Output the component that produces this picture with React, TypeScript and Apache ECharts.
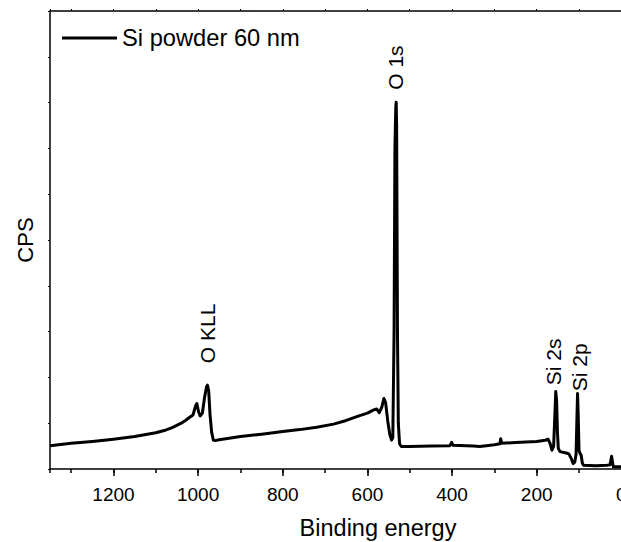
import React, { useEffect, useRef } from "react";
import * as echarts from "echarts";

// Binding energy (eV) and counts (relative CPS, 0-100 scale)
const energy = [
  1350, 1300, 1250, 1200, 1150, 1100, 1080, 1060, 1040, 1030, 1020, 1012, 1006, 1003, 999, 995, 990, 985, 980, 978, 975, 972, 968, 964, 960,
  950, 900, 850, 800, 760, 720, 680, 650, 620, 600, 585, 578, 572, 566, 561, 557, 552, 547, 543, 540, 537, 535, 533, 532, 531, 529, 527,
  524, 520, 500, 450, 405, 401, 398, 350, 334, 300, 287, 285, 283, 250, 200, 180, 173, 168, 164, 160, 157, 155, 153, 151, 149, 145,
  130, 124, 118, 114, 110, 107, 105, 103.5, 102, 100, 98, 95, 92, 89, 60, 35, 27, 25, 23, 21, 19, 10, 0, -30,
];
const cps = [
  5.1, 5.6, 6.0, 6.5, 7.1, 7.9, 8.4, 9.1, 10.0, 10.6, 11.3, 11.8, 13.8, 14.3, 12.5, 11.6, 12.2, 15.5, 18.0, 18.3, 17.0, 12.0, 8.0, 6.3, 6.2,
  6.4, 7.1, 7.6, 8.2, 8.6, 9.1, 9.8, 10.6, 11.6, 12.2, 12.9, 13.1, 12.3, 13.5, 15.4, 14.5, 10.5, 7.5, 6.3, 6.8, 30, 70, 79, 80.1, 75, 30, 10,
  5.5, 4.9, 4.9, 5.0, 5.1, 5.8, 5.2, 5.0, 4.9, 5.3, 5.5, 6.6, 5.6, 5.8, 6.0, 6.3, 6.5, 5.5, 4.1, 5.0, 12, 16.9, 15, 8, 4.5, 3.8,
  3.5, 3.3, 2.2, 1.2, 1.5, 3.2, 11, 16.5, 12, 4, 3.5, 3.0, 1.2, 0.8, 0.7, 0.8, 0.9, 1.8, 2.8, 1.5, 0.5, 0.5, 0.5, 0.5,
];

const seriesName = "Si powder 60 nm";

// Peak annotations: label, energy, cps level where the label starts
const peakLabels = ["O KLL", "O 1s", "Si 2s", "Si 2p"];
const peakEnergy = [978, 533, 161, 98];
const peakLevel = [23.1, 82.8, 18.3, 17.0];

const xTitle = "Binding energy";
const yTitle = "CPS";

const FONT = "'Liberation Sans', Arial, sans-serif";

export default function App() {
  const ref = useRef<HTMLDivElement>(null);
  useEffect(() => {
    if (!ref.current) return;
    const chart = echarts.init(ref.current, undefined, { renderer: "svg" });
    const lineData = energy.map((e, i) => [e, cps[i]]);
    const annData = peakLabels.map((l, i) => ({ name: l, value: [peakEnergy[i], peakLevel[i]] }));
    const axisLineStyle = { color: "#000", width: 1.5 };
    chart.setOption({
      animation: false,
      backgroundColor: "#fff",
      textStyle: { fontFamily: FONT, color: "#000" },
      grid: { left: 50, top: 11, bottom: 73, right: 24, containLabel: false, outerBoundsMode: "none" },
      legend: {
        data: [{ name: seriesName, icon: "rect" }],
        left: 62,
        top: 26,
        padding: 0,
        itemWidth: 55,
        itemHeight: 3,
        itemStyle: { color: "#000" },
        textStyle: { fontSize: 23.7, color: "#000", fontFamily: FONT },
      },
      xAxis: [
        {
          type: "value",
          inverse: true,
          min: -200,
          max: 1350,
          interval: 200,
          position: "bottom",
          axisLine: { show: true, onZero: false, lineStyle: axisLineStyle },
          axisTick: { show: true, length: 7, inside: false, lineStyle: { color: "#000", width: 1.5 } },
          axisLabel: {
            fontSize: 19,
            color: "#000",
            fontFamily: FONT,
            margin: 16,
            showMaxLabel: false,
            showMinLabel: false,
            formatter: (v: number) => String(v),
          },
          splitLine: { show: false },
          name: xTitle,
          nameLocation: "middle",
          nameGap: 47,
          nameTextStyle: { fontSize: 23.5, color: "#000", fontFamily: FONT },
        },
        {
          type: "value",
          inverse: true,
          min: -200,
          max: 1350,
          interval: 100,
          position: "bottom",
          axisLine: { show: false, onZero: false },
          axisTick: { show: true, length: 4, inside: false, lineStyle: { color: "#000", width: 1.5 } },
          axisLabel: { show: false },
          splitLine: { show: false },
        },
        {
          type: "value",
          inverse: true,
          min: -200,
          max: 1350,
          interval: 100,
          position: "top",
          axisLine: { show: true, onZero: false, lineStyle: axisLineStyle },
          axisTick: { show: true, length: 2, inside: false, lineStyle: { color: "#000", width: 1 } },
          axisLabel: { show: false },
          splitLine: { show: false },
        },
      ],
      yAxis: {
        type: "value",
        min: 0,
        max: 100,
        interval: 10,
        position: "left",
        axisLine: { show: true, onZero: false, lineStyle: axisLineStyle },
        axisTick: { show: true, length: 2, inside: false, lineStyle: { color: "#000", width: 1 } },
        axisLabel: { show: false },
        splitLine: { show: false },
        name: yTitle,
        nameLocation: "middle",
        nameGap: 14,
        nameTextStyle: { fontSize: 22, color: "#000", fontFamily: FONT },
      },
      series: [
        {
          name: seriesName,
          type: "line",
          xAxisIndex: 0,
          data: lineData,
          symbol: "none",
          showSymbol: false,
          lineStyle: { color: "#000", width: 3, join: "round" },
          itemStyle: { color: "#000" },
        },
        {
          name: "labels",
          type: "scatter",
          xAxisIndex: 0,
          data: annData,
          symbolSize: 0,
          silent: true,
          itemStyle: { color: "#000", opacity: 1 },
          label: {
            show: true,
            formatter: "{b}",
            position: "inside",
            rotate: 90,
            align: "left",
            verticalAlign: "middle",
            fontSize: 21,
            color: "#000",
            opacity: 1,
            textBorderWidth: 0,
            fontFamily: FONT,
          },
        },
      ],
    });
    return () => chart.dispose();
  }, []);
  return (
    <div style={{ position: "fixed", left: 0, top: 0, width: 621, height: 542, overflow: "hidden", background: "#fff" }}>
      <div ref={ref} style={{ width: 730, height: 542 }} />
    </div>
  );
}
